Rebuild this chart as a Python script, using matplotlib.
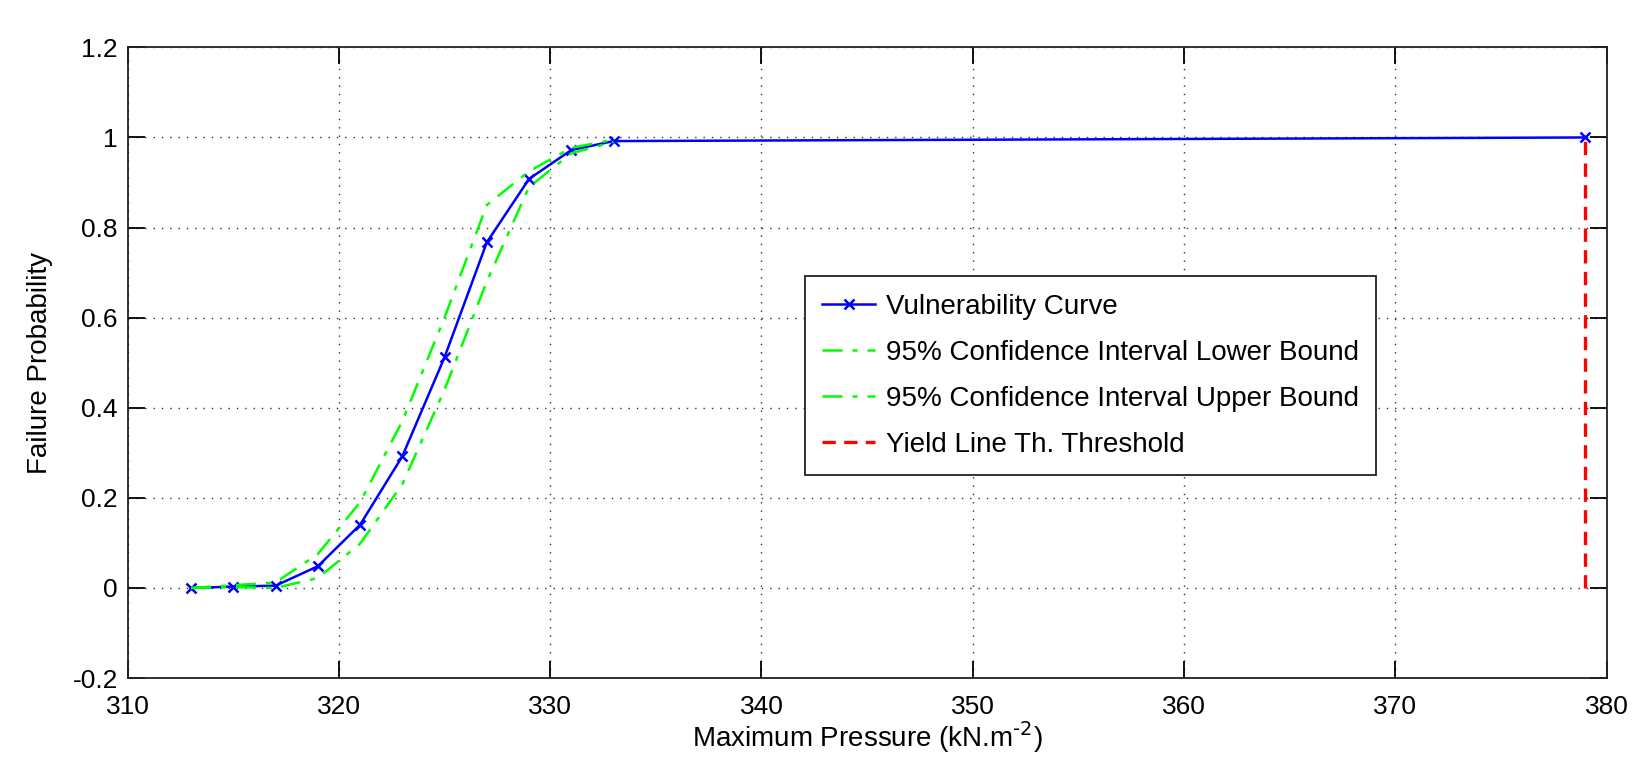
import matplotlib.pyplot as plt
import numpy as np

plt.rcParams['font.family'] = ['Liberation Sans', 'DejaVu Sans']

pressure = [313, 315, 317, 319, 321, 323, 325, 327, 329, 331, 333, 379]
vulnerability = [0.0, 0.003, 0.005, 0.048, 0.14, 0.292, 0.512, 0.767, 0.908, 0.972, 0.992, 1.0]

ci_pressure = [313, 315, 317, 319, 321, 323, 325, 327, 329, 331, 333]
ci_lower = [0.0, 0.002, 0.0, 0.022, 0.098, 0.23, 0.44, 0.68, 0.89, 0.965, 0.99]
ci_upper = [0.0, 0.006, 0.012, 0.075, 0.19, 0.37, 0.6, 0.85, 0.925, 0.977, 0.995]

threshold_x = [379, 379]
threshold_y = [0.0, 1.0]

fig = plt.figure(figsize=(16.36, 7.58), dpi=100)
ax = fig.add_axes([0.078, 0.1055, 0.904, 0.832])

ax.plot(pressure, vulnerability, color='#0000ff', lw=1.8, marker='x', ms=7, mew=1.8,
        label='Vulnerability Curve')
ax.plot(ci_pressure, ci_lower, color='#00ff00', lw=1.8, ls='-.', dashes=(8, 4, 2, 4),
        label='95% Confidence Interval Lower Bound')
ax.plot(ci_pressure, ci_upper, color='#00ff00', lw=1.8, ls='-.', dashes=(8, 4, 2, 4),
        label='95% Confidence Interval Upper Bound')
ax.plot(threshold_x, threshold_y, color='#ff0000', lw=2.4, ls='--', dashes=(4, 2.5),
        label='Yield Line Th. Threshold')

ax.set_xlim(310, 380)
ax.set_ylim(-0.2, 1.2)
ax.set_xticks(np.arange(310, 381, 10))
ax.set_yticks(np.arange(-0.2, 1.21, 0.2))
ax.set_yticklabels(['-0.2', '0', '0.2', '0.4', '0.6', '0.8', '1', '1.2'])
ax.grid(True, ls=(0, (1, 5)), color='#333333', lw=1.0)
ax.tick_params(direction='in', length=12, width=1.3, top=True, right=True, labelsize=19)
ax.tick_params(axis='x', pad=12)
ax.tick_params(axis='y', pad=7)
for s in ax.spines.values():
    s.set_linewidth(1.3)
    s.set_color('#222222')

ax.set_ylabel('Failure Probability', fontsize=20, labelpad=14)
ax.set_xlabel('Maximum Pressure (kN.m$^{\\text{-}2}$)', fontsize=20, labelpad=0)

leg = ax.legend(loc='upper left', bbox_to_anchor=(0.458, 0.637), fontsize=20, numpoints=1,
                fancybox=False, framealpha=1, edgecolor='#222222', handlelength=1.9,
                handletextpad=0.4, borderpad=0.62, labelspacing=0.72, borderaxespad=0)
leg.get_frame().set_linewidth(1.3)

fig.savefig('out.png', dpi=100)
